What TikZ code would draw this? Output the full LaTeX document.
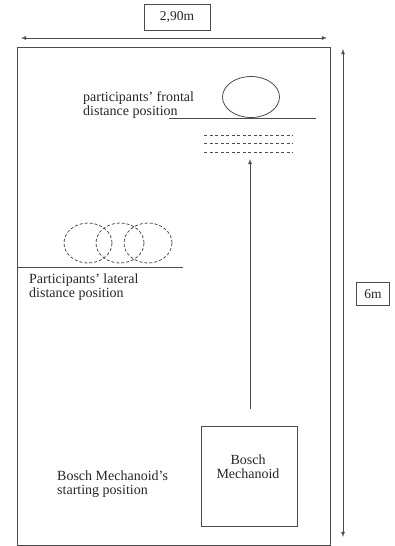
\documentclass[tikz,border=0pt]{standalone}
\usepackage{fontspec}
\setmainfont{Liberation Serif}
\usetikzlibrary{shapes.geometric}
\begin{document}
\begin{tikzpicture}[x=1pt,y=-1pt,
  line/.style={draw=black!70,line width=0.8pt},
  lbl/.style={font=\fontsize{14}{14}\selectfont,align=left,anchor=north west,inner sep=0pt,text=black!85},
  dimbox/.style={draw=black!70,line width=0.8pt,font=\fontsize{13.5}{14}\selectfont,minimum width=#1,minimum height=26pt,inner sep=0pt,text=black!85},
  arr/.style={line,-latex}]
\useasboundingbox (0,0) rectangle (394,546);
\draw[line] (17,47) rectangle (330,545);
\node[dimbox=66pt] (w) at (177,17) {2,90m};
\coordinate (wl) at (21,38);
\coordinate (wr) at (327,38);
\draw[line,latex-latex] (wl) -- (wr);
\coordinate (ht) at (343,49);
\coordinate (hb) at (343,537);
\draw[line,latex-latex] (ht) -- (hb);
\node[dimbox=33pt,minimum height=23pt] (h) at (373,294) {6m};
% frontal
\node[line,ellipse,minimum width=57pt,minimum height=41pt,inner sep=0pt] (fe) at (251,97) {};
\coordinate (fl1) at (169,118);
\coordinate (fl2) at (316,118);
\draw[line] (fl1) -- (fl2);
\node[lbl] (ft) at (83,91) {participants' frontal\\distance position};
\foreach \yy in {135,143,152}{
  \draw[line,dashed,dash pattern=on 3pt off 2.5pt] (204,\yy) -- (293,\yy);
}
% lateral
\foreach \xx in {88,120,148}{
  \draw[line,dashed,dash pattern=on 3pt off 2pt] (\xx,243) ellipse (24pt and 20pt);
}
\coordinate (ll1) at (17,267);
\coordinate (ll2) at (183,267);
\draw[line] (ll1) -- (ll2);
\node[lbl] (lt) at (29,274) {Participants' lateral\\distance position};
% robot
\node[line,minimum width=96pt,minimum height=100pt,inner sep=0pt] (rb) at (249,476) {};
\node[font=\fontsize{14}{14}\selectfont,align=center,text=black!85,anchor=north,inner sep=0pt] (rt) at (248,455) {Bosch\\Mechanoid};
\node[lbl] (st) at (57,471) {Bosch Mechanoid's\\starting position};
\coordinate (a0) at (250,409);
\coordinate (a1) at (250,159);
\draw[arr] (a0) -- (a1);
\end{tikzpicture}
\end{document}
